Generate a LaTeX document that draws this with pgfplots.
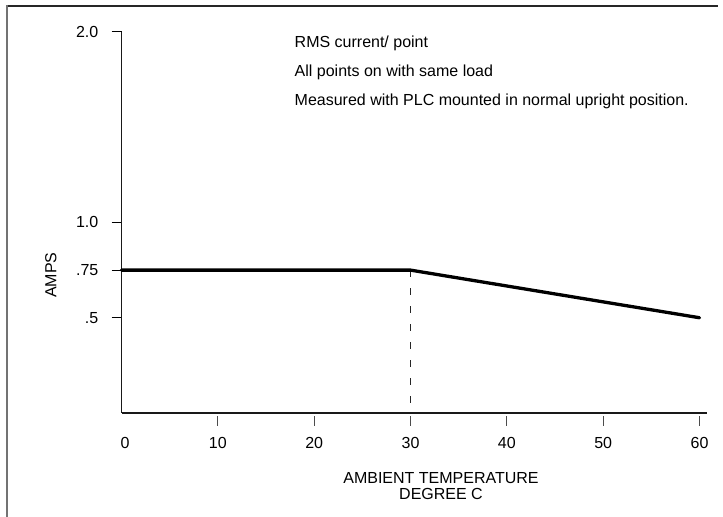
\documentclass[border=0pt]{standalone}
\usepackage{fontspec}
\setmainfont{Liberation Sans}
\usepackage{pgfplots}
\pgfplotsset{compat=1.18}
\begin{document}
\fontsize{16bp}{15.5bp}\selectfont
\begin{tikzpicture}[x=1bp,y=1bp]
\begin{axis}[
  at={(121.5bp,104bp)}, anchor=south west,
  scale only axis, width=585.7bp, height=381bp,
  xmin=0, xmax=60.8, ymin=0, ymax=2.0,
  axis lines=left, axis line style={-, line width=1.2bp, black!90},
  tick align=outside, major tick length=10bp,
  tick style={black, line width=1bp},
  every major x tick/.append style={yshift=-3bp, black!70},
  xtick={10,20,30,40,50,60},
  extra x ticks={0}, extra x tick style={tick style={draw=none}, tick label style={xshift=3.5bp}},
  ytick={0.5,0.75,1,2}, yticklabels={.5,.75,1.0,2.0},
  xticklabel style={inner sep=0pt, yshift=-14bp, font=\fontsize{16bp}{16bp}\selectfont},
  yticklabel style={inner sep=0pt, xshift=-13bp, font=\fontsize{16bp}{16bp}\selectfont},
  /pgf/number format/assume math mode=true,
  xlabel={AMBIENT TEMPERATURE\\DEGREE C},
  every axis x label/.style={at={(axis description cs:0.5455,-0.193)}, anchor=center, align=center, font=\fontsize{16bp}{16bp}\selectfont},
  ylabel={AMPS},
  every axis y label/.style={at={(axis description cs:-0.1204,0.362)}, anchor=center, rotate=90, font=\fontsize{16bp}{16bp}\selectfont},
  clip=false,
]
\addplot[black!85, line width=0.9bp, dash pattern=on 7bp off 11bp] coordinates {(30,0.75) (30,0)};
\addplot[black, line width=3.3bp, line cap=round, line join=round] coordinates {(0,0.75) (30,0.75) (60,0.5)};
\node[anchor=base west, inner sep=0pt, font=\fontsize{16bp}{16bp}\selectfont] at (axis cs:17.96,1.916) {RMS current/ point};
\node[anchor=base west, inner sep=0pt, font=\fontsize{16bp}{16bp}\selectfont] at (axis cs:17.96,1.764) {All points on with same load};
\node[anchor=base west, inner sep=0pt, font=\fontsize{16bp}{16bp}\selectfont] at (axis cs:17.96,1.612) {Measured with PLC mounted in normal upright position.};
\end{axis}
\draw[line width=1.2bp, black!85] (7,511) -- (718,511);
\draw[line width=2bp, black!55] (7,0) -- (7,511.6);
\pgfresetboundingbox
\useasboundingbox (0,0) rectangle (723,517);
\end{tikzpicture}
\end{document}
